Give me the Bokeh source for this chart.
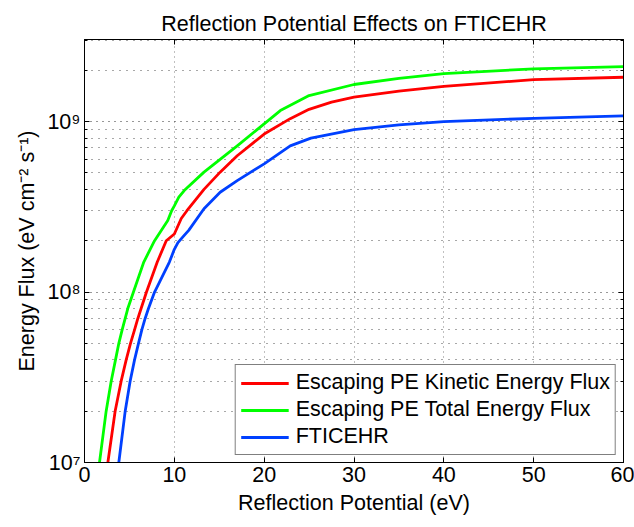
from bokeh.plotting import figure
from bokeh.models import (Range1d, LinearAxis, LogAxis, FixedTicker, CustomJSTickFormatter,
                          Legend, LegendItem)
from bokeh.embed import file_html
from bokeh.resources import INLINE

# ---- data ----
kin_x = [2.6, 3.41, 4.08, 4.64, 5.12, 5.57, 5.94, 6.3, 6.9, 8.1, 9.1, 10.0, 10.77, 11.4, 13.3,
         15.1, 17.0, 20.0, 22.9, 25.0, 27.5, 30.0, 35.0, 40.0, 50.0, 60.0]
kin_y = [1e7, 2e7, 3e7, 4e7, 5e7, 6e7, 7e7, 8e7, 1e8, 1.5e8, 2e8, 2.19e8, 2.7e8, 3.0e8, 4.0e8,
         5.05e8, 6.3e8, 8.45e8, 1.04e9, 1.18e9, 1.3e9, 1.39e9, 1.51e9, 1.61e9, 1.76e9, 1.82e9]

tot_x = [1.67, 2.41, 2.97, 3.45, 3.82, 4.19, 4.53, 4.82, 5.45, 6.6, 7.8, 9.27, 9.7, 10.0, 10.5,
         11.1, 13.3, 17.0, 20.0, 21.8, 25.0, 30.0, 35.0, 40.0, 50.0, 60.0]
tot_y = [1e7, 2e7, 3e7, 4e7, 5e7, 6e7, 7e7, 8e7, 1e8, 1.5e8, 2e8, 2.63e8, 3e8, 3.2e8, 3.6e8,
         3.94e8, 5.05e8, 7.2e8, 9.7e8, 1.16e9, 1.42e9, 1.65e9, 1.79e9, 1.91e9, 2.04e9, 2.1e9]

fti_x = [3.82, 4.53, 5.08, 5.57, 6.01, 6.38, 6.75, 7.12, 7.8, 9.45, 10.0, 10.4, 11.1, 11.6, 13.3,
         15.1, 17.0, 20.0, 22.9, 25.2, 30.0, 35.0, 40.0, 50.0, 60.0]
fti_y = [1e7, 2e7, 3e7, 4e7, 5e7, 6e7, 7e7, 8e7, 1e8, 1.5e8, 1.78e8, 1.95e8, 2.15e8, 2.3e8, 3.08e8,
         3.85e8, 4.5e8, 5.65e8, 7.2e8, 8.0e8, 8.98e8, 9.55e8, 1.0e9, 1.045e9, 1.08e9]

x_ticks = [0, 10, 20, 30, 40, 50, 60]
y_ticks = [1e7, 1e8, 1e9]
y_minor = [m * 10 ** e for e in (7, 8, 9) for m in range(2, 10) if m * 10 ** e <= 3.03e9]

labels = ["Escaping PE Kinetic Energy Flux", "Escaping PE Total Energy Flux", "FTICEHR"]
colors = ["#ff0000", "#00ff00", "#0040ff"]

FONT = "Liberation Sans"
FS = "21.5px"

p = figure(frame_width=539, frame_height=423, y_axis_type="log",
           x_range=Range1d(0, 60), y_range=Range1d(1e7, 3.03e9),
           output_backend="svg", toolbar_location=None,
           min_border_left=84, min_border_top=39, min_border_right=11, min_border_bottom=65,
           title="Reflection Potential Effects on FTICEHR")

p.title.align = "center"
p.title.text_font = FONT
p.title.text_font_size = FS
p.title.text_font_style = "normal"
p.title.text_color = "black"
p.title.standoff = 7

p.outline_line_color = "black"
p.outline_line_width = 1
p.background_fill_color = "white"
p.border_fill_color = "white"

xt = FixedTicker(ticks=x_ticks, minor_ticks=[])
yt = FixedTicker(ticks=y_ticks, minor_ticks=y_minor)

sup_code = """
const sup = {'-':'\u207b','0':'\u2070','1':'\u00b9','2':'\u00b2','3':'\u00b3','4':'\u2074',
             '5':'\u2075','6':'\u2076','7':'\u2077','8':'\u2078','9':'\u2079'};
const e = Math.round(Math.log10(tick));
return '10' + String(e).split('').map(c => sup[c]).join('');
"""
yfmt = CustomJSTickFormatter(code=sup_code)

for ax in (p.xaxis[0], p.yaxis[0]):
    ax.axis_line_color = "black"
    ax.major_tick_in = 5
    ax.major_tick_out = 0
    ax.minor_tick_in = 3
    ax.minor_tick_out = 0
    ax.major_tick_line_color = "black"
    ax.minor_tick_line_color = "black"
    ax.major_label_text_font = FONT
    ax.major_label_text_font_size = FS
    ax.major_label_text_color = "black"
    ax.axis_label_text_font = FONT
    ax.axis_label_text_font_size = FS
    ax.axis_label_text_font_style = "normal"
    ax.axis_label_text_color = "black"

p.xaxis.ticker = xt
p.yaxis.ticker = yt
p.yaxis.formatter = yfmt
p.xaxis.major_label_standoff = 4
p.yaxis.major_label_standoff = 4
p.xaxis.axis_label = "Reflection Potential (eV)"
p.yaxis.axis_label = "Energy Flux (eV cm\u207b\u00b2 s\u207b\u00b9)"
p.xaxis.axis_label_standoff = 6
p.yaxis.axis_label_standoff = 5

blank = CustomJSTickFormatter(code="return '';")
top_ax = LinearAxis(ticker=xt, formatter=blank, major_label_text_font_size="1px",
                    major_tick_in=5, major_tick_out=0, major_label_standoff=0,
                    axis_line_color="black")
right_ax = LogAxis(ticker=yt, formatter=blank, major_label_text_font_size="1px",
                   major_tick_in=5, major_tick_out=0, minor_tick_in=3, minor_tick_out=0,
                   major_label_standoff=0, axis_line_color="black")
p.add_layout(top_ax, "above")
p.add_layout(right_ax, "right")

p.xgrid.ticker = xt
p.ygrid.ticker = yt
p.xgrid.grid_line_color = "#808080"
p.xgrid.grid_line_dash = "1 4"
p.xgrid.grid_line_width = 1
p.ygrid.grid_line_color = "#303030"
p.ygrid.grid_line_dash = "1 5"
p.ygrid.minor_grid_line_color = "#505050"
p.ygrid.minor_grid_line_dash = "1 6"

series = [(kin_x, kin_y), (tot_x, tot_y), (fti_x, fti_y)]
items = []
for (xs, ys), lab, col in zip(series, labels, colors):
    r = p.line(xs, ys, line_color=col, line_width=2.8, line_join="round")
    items.append(LegendItem(label=lab, renderers=[r]))

leg = Legend(items=items, location="bottom_right")
leg.label_text_font = FONT
leg.label_text_font_size = FS
leg.label_text_color = "black"
leg.glyph_width = 48
leg.glyph_height = 24
leg.label_height = 24
leg.label_standoff = 7
leg.spacing = 2
leg.padding = 5
leg.margin = 7
leg.border_line_color = "black"
leg.border_line_width = 1
leg.background_fill_color = "white"
leg.background_fill_alpha = 1
p.add_layout(leg, "center")

open("out.html", "w").write(file_html(p, INLINE))
